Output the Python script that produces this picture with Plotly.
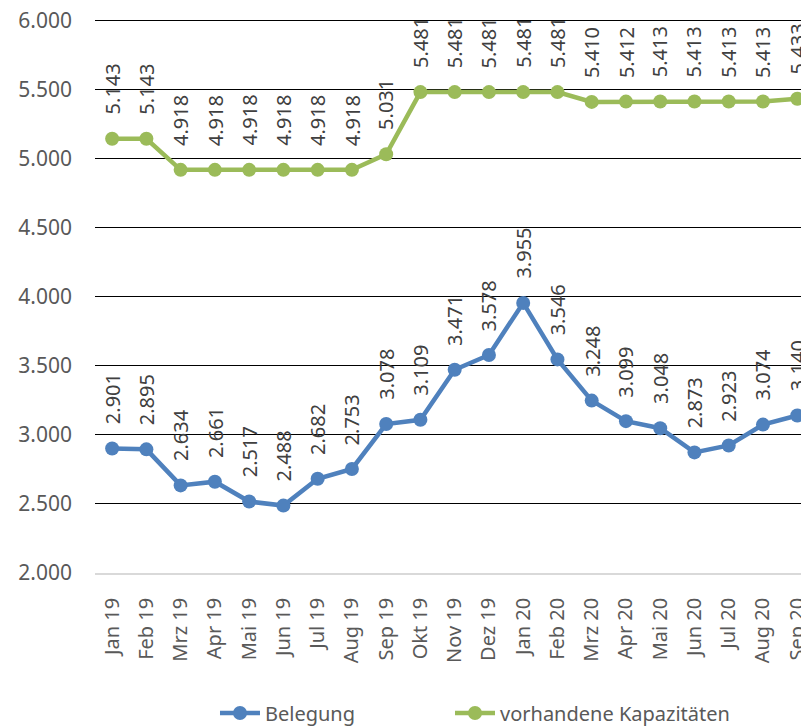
import plotly.graph_objects as go

categories = ["Jan 19", "Feb 19", "Mrz 19", "Apr 19", "Mai 19", "Jun 19", "Jul 19", "Aug 19",
              "Sep 19", "Okt 19", "Nov 19", "Dez 19", "Jan 20", "Feb 20", "Mrz 20", "Apr 20",
              "Mai 20", "Jun 20", "Jul 20", "Aug 20", "Sep 20"]
belegung = [2901, 2895, 2634, 2661, 2517, 2488, 2682, 2753, 3078, 3109, 3471, 3578,
            3955, 3546, 3248, 3099, 3048, 2873, 2923, 3074, 3140]
kapazitaeten = [5143, 5143, 4918, 4918, 4918, 4918, 4918, 4918, 5031, 5481, 5481, 5481,
                5481, 5481, 5410, 5412, 5413, 5413, 5413, 5413, 5433]
y_ticks = [2000, 2500, 3000, 3500, 4000, 4500, 5000, 5500, 6000]

BLUE = "#4F81BD"
GREEN = "#9BBB59"
FONT = "Noto Sans"

def de(v):
    return f"{v:,}".replace(",", ".")

fig = go.Figure()
fig.add_trace(go.Scatter(x=categories, y=belegung, name="Belegung", mode="lines+markers",
                         line=dict(color=BLUE, width=4.5), marker=dict(size=14, color=BLUE),
                         cliponaxis=False, legend="legend"))
fig.add_trace(go.Scatter(x=categories, y=kapazitaeten, name="vorhandene Kapazitäten",
                         mode="lines+markers",
                         line=dict(color=GREEN, width=4.5), marker=dict(size=14, color=GREEN),
                         cliponaxis=False, legend="legend2"))

annotations = []
for series in (belegung, kapazitaeten):
    for c, v in zip(categories, series):
        annotations.append(dict(x=c, y=v, xref="x", yref="y", text=de(v), showarrow=False,
                                textangle=-90, xanchor="center", yanchor="bottom", yshift=22,
                                font=dict(family=FONT, size=20, color="#404040")))

legend_common = dict(orientation="h", xref="container", yref="container", y=0.0193,
                     xanchor="left", yanchor="middle", itemwidth=40,
                     font=dict(family=FONT, size=20, color="#595959"))

fig.update_layout(
    width=801, height=727,
    margin=dict(l=95, r=0, t=19, b=154, autoexpand=False),
    paper_bgcolor="white", plot_bgcolor="white",
    separators=",.",
    showlegend=True,
    legend=dict(x=0.2684, **legend_common),
    legend2=dict(x=0.5618, **legend_common),
    annotations=annotations,
    xaxis=dict(type="category", range=[-0.5, 20.11], showgrid=False, showline=True,
               linecolor="#D9D9D9", linewidth=1.5, tickangle=-90, ticks="",
               ticklabelstandoff=15, automargin=False,
               tickfont=dict(family=FONT, size=20, color="#595959")),
    yaxis=dict(range=[2000, 6010], tickvals=y_ticks, tickformat=",.0f", showgrid=True,
               gridcolor="#000000", gridwidth=1, zeroline=False, showline=False, ticks="",
               ticklabelstandoff=22, automargin=False,
               tickfont=dict(family=FONT, size=21, color="#595959")),
)

fig.write_html("out.html", config={"displayModeBar": False},
               post_script="document.body.style.margin='0';document.body.style.overflow='hidden';")
